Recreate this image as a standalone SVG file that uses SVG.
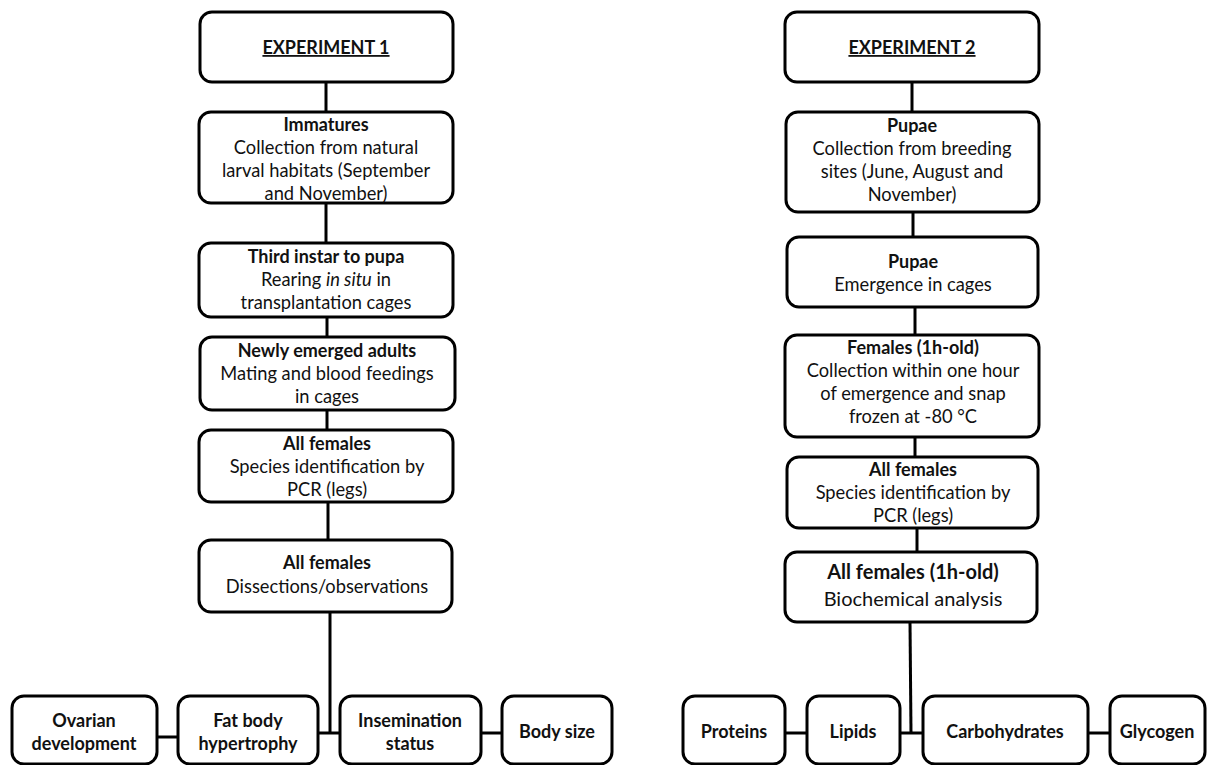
<svg xmlns="http://www.w3.org/2000/svg" width="1216" height="765" viewBox="0 0 1216 765">
<style>
.box{fill:#fff;stroke:#000;stroke-width:3}
.ln{stroke:#000;stroke-width:3;fill:none}
text{font-family:Lato,"Open Sans","Liberation Sans",sans-serif;font-size:18.3px;fill:#111;text-anchor:middle}
.b{font-weight:bold;font-size:18px}
.h{font-weight:bold;font-size:18px;text-decoration:underline}
.big{font-size:20px}
.bb{font-weight:bold;font-size:20px}
</style>
<rect width="1216" height="765" fill="#fff"/>
<g id="connectors">
<line class="ln" x1="326" y1="82" x2="326" y2="112"/>
<line class="ln" x1="326" y1="203" x2="326" y2="243"/>
<line class="ln" x1="327" y1="317" x2="327" y2="337"/>
<line class="ln" x1="327" y1="410" x2="327" y2="430"/>
<line class="ln" x1="328" y1="502" x2="328" y2="540"/>
<line class="ln" x1="330" y1="612" x2="330" y2="734"/>
<line class="ln" x1="318" y1="733" x2="340" y2="733"/>
<line class="ln" x1="157" y1="737" x2="178" y2="737"/>
<line class="ln" x1="481" y1="733" x2="502" y2="733"/>
<line class="ln" x1="912" y1="82" x2="912" y2="112"/>
<line class="ln" x1="913" y1="212" x2="913" y2="237"/>
<line class="ln" x1="915" y1="307" x2="915" y2="335"/>
<line class="ln" x1="915" y1="437" x2="915" y2="457"/>
<line class="ln" x1="917" y1="528" x2="917" y2="552"/>
<line class="ln" x1="910" y1="622" x2="911" y2="734"/>
<line class="ln" x1="900" y1="733" x2="923" y2="733"/>
<line class="ln" x1="785" y1="733" x2="807" y2="733"/>
<line class="ln" x1="1088" y1="733" x2="1110" y2="733"/>
</g>
<g id="exp1"><rect class="box" x="200" y="12" width="253" height="70" rx="12"/><text class="h" x="326" y="54">EXPERIMENT 1</text></g>
<g id="immatures"><rect class="box" x="199" y="112" width="254" height="91" rx="12"/>
<text class="b" x="326" y="131">Immatures</text><text x="326" y="154">Collection from natural</text><text x="326" y="177">larval habitats (September</text><text x="326" y="200">and November)</text></g>
<g id="third"><rect class="box" x="199" y="243" width="254" height="74" rx="12"/>
<text class="b" x="326" y="263">Third instar to pupa</text><text x="326" y="286">Rearing <tspan font-style="italic">in situ</tspan> in</text><text x="326" y="309">transplantation cages</text></g>
<g id="newly"><rect class="box" x="200" y="337" width="255" height="73" rx="12"/>
<text class="b" x="327" y="357">Newly emerged adults</text><text x="327" y="380">Mating and blood feedings</text><text x="327" y="403">in cages</text></g>
<g id="allf1"><rect class="box" x="199" y="430" width="254" height="72" rx="12"/>
<text class="b" x="327" y="450">All females</text><text x="327" y="473">Species identification by</text><text x="327" y="496">PCR (legs)</text></g>
<g id="allf2"><rect class="box" x="199" y="540" width="253" height="72" rx="12"/>
<text class="b" x="327" y="569">All females</text><text x="327" y="593">Dissections/observations</text></g>
<g id="ovarian"><rect class="box" x="12" y="696" width="145" height="68" rx="12"/><text class="b" x="84" y="727">Ovarian</text><text class="b" x="84" y="750">development</text></g>
<g id="fatbody"><rect class="box" x="178" y="696" width="140" height="68" rx="12"/><text class="b" x="248" y="727">Fat body</text><text class="b" x="248" y="750">hypertrophy</text></g>
<g id="insem"><rect class="box" x="340" y="696" width="141" height="68" rx="12"/><text class="b" x="410" y="727">Insemination</text><text class="b" x="410" y="750">status</text></g>
<g id="bodysize"><rect class="box" x="502" y="696" width="110" height="68" rx="12"/><text class="b" x="557" y="738">Body size</text></g>
<g id="exp2"><rect class="box" x="785" y="12" width="254" height="70" rx="12"/><text class="h" x="912" y="54">EXPERIMENT 2</text></g>
<g id="pupae1"><rect class="box" x="786" y="112" width="253" height="100" rx="12"/>
<text class="b" x="912" y="132">Pupae</text><text x="912" y="155">Collection from breeding</text><text x="912" y="178">sites (June, August and</text><text x="912" y="201">November)</text></g>
<g id="pupae2"><rect class="box" x="787" y="237" width="251" height="70" rx="12"/>
<text class="b" x="913" y="268">Pupae</text><text x="913" y="291">Emergence in cages</text></g>
<g id="females1h"><rect class="box" x="785" y="335" width="254" height="102" rx="12"/>
<text class="b" x="913" y="354">Females (1h-old)</text><text x="913" y="377">Collection within one hour</text><text x="913" y="400">of emergence and snap</text><text x="913" y="423">frozen at -80 °C</text></g>
<g id="allf3"><rect class="box" x="787" y="457" width="251" height="71" rx="12"/>
<text class="b" x="913" y="476">All females</text><text x="913" y="499">Species identification by</text><text x="913" y="522">PCR (legs)</text></g>
<g id="allf4"><rect class="box" x="785" y="552" width="252" height="70" rx="12"/>
<text class="bb" x="913" y="579">All females (1h-old)</text><text class="big" x="913" y="606">Biochemical analysis</text></g>
<g id="proteins"><rect class="box" x="683" y="696" width="102" height="68" rx="12"/><text class="b" x="734" y="738">Proteins</text></g>
<g id="lipids"><rect class="box" x="807" y="696" width="93" height="68" rx="12"/><text class="b" x="853" y="738">Lipids</text></g>
<g id="carbo"><rect class="box" x="923" y="696" width="165" height="68" rx="12"/><text class="b" x="1005" y="738">Carbohydrates</text></g>
<g id="glycogen"><rect class="box" x="1110" y="696" width="95" height="68" rx="12"/><text class="b" x="1157" y="738">Glycogen</text></g>
</svg>
